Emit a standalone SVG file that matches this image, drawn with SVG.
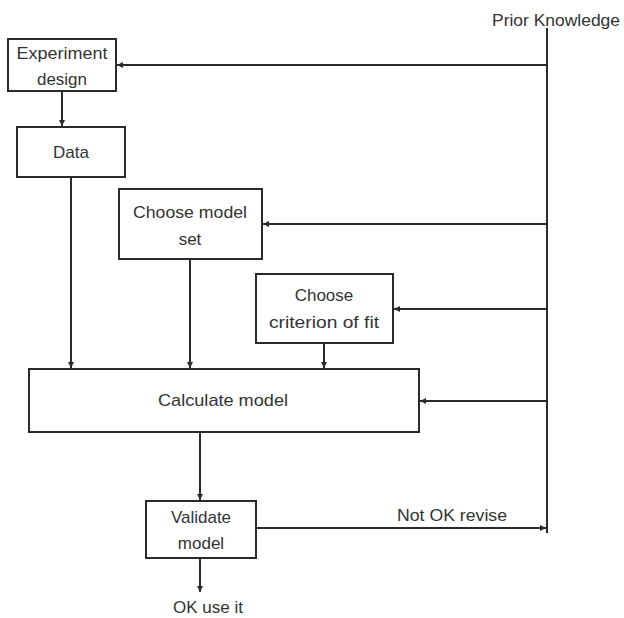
<svg xmlns="http://www.w3.org/2000/svg" width="624" height="618" viewBox="0 0 624 618">
<style>
.box{fill:#fff;stroke:#2a2a2a;stroke-width:2}
.t{font-family:"Liberation Sans",Arial,sans-serif;font-size:17px;fill:#333;text-anchor:middle}
.c{fill:none;stroke:#2a2a2a;stroke-width:2}
</style>
<defs>
<marker id="ah" viewBox="0 0 6 6" refX="6" refY="3" markerWidth="6" markerHeight="6" markerUnits="userSpaceOnUse" orient="auto">
<path d="M0,0 L6,3 L0,6 z" fill="#2a2a2a"/>
</marker>
</defs>
<rect width="624" height="618" fill="#fff"/>
<g id="connectors">
<line class="c" x1="547" y1="28" x2="547" y2="533"/>
<line class="c" x1="547" y1="65" x2="117" y2="65" marker-end="url(#ah)"/>
<line class="c" x1="547" y1="224" x2="263" y2="224" marker-end="url(#ah)"/>
<line class="c" x1="547" y1="309" x2="394" y2="309" marker-end="url(#ah)"/>
<line class="c" x1="547" y1="401" x2="420" y2="401" marker-end="url(#ah)"/>
<line class="c" x1="62" y1="91" x2="62" y2="126" marker-end="url(#ah)"/>
<line class="c" x1="71" y1="177" x2="71" y2="368" marker-end="url(#ah)"/>
<line class="c" x1="190" y1="259" x2="190" y2="368" marker-end="url(#ah)"/>
<line class="c" x1="324" y1="343" x2="324" y2="368" marker-end="url(#ah)"/>
<line class="c" x1="200" y1="432" x2="200" y2="500" marker-end="url(#ah)"/>
<line class="c" x1="256" y1="528" x2="546" y2="528" marker-end="url(#ah)"/>
<line class="c" x1="200" y1="558" x2="200" y2="592" marker-end="url(#ah)"/>
<text class="t" x="452" y="521" textLength="110" lengthAdjust="spacingAndGlyphs">Not OK revise</text>
</g>
<g id="prior"><text class="t" x="556" y="26" textLength="128" lengthAdjust="spacingAndGlyphs">Prior Knowledge</text></g>
<g id="experiment"><rect class="box" x="8" y="39" width="108" height="52"/><text class="t" x="62" y="59" textLength="91" lengthAdjust="spacingAndGlyphs">Experiment</text><text class="t" x="62" y="85">design</text></g>
<g id="data"><rect class="box" x="17" y="127" width="108" height="50"/><text class="t" x="71" y="158">Data</text></g>
<g id="modelset"><rect class="box" x="119" y="189" width="143" height="70"/><text class="t" x="190" y="218" textLength="114" lengthAdjust="spacingAndGlyphs">Choose model</text><text class="t" x="190" y="245">set</text></g>
<g id="criterion"><rect class="box" x="256" y="274" width="137" height="69"/><text class="t" x="324" y="301">Choose</text><text class="t" x="324" y="328" textLength="110" lengthAdjust="spacingAndGlyphs">criterion of fit</text></g>
<g id="calculate"><rect class="box" x="29" y="369" width="390" height="63"/><text class="t" x="223" y="406" textLength="130" lengthAdjust="spacingAndGlyphs">Calculate model</text></g>
<g id="validate"><rect class="box" x="146" y="501" width="110" height="57"/><text class="t" x="201" y="523">Validate</text><text class="t" x="201" y="549">model</text></g>
<g id="ok"><text class="t" x="208" y="613">OK use it</text></g>
</svg>
